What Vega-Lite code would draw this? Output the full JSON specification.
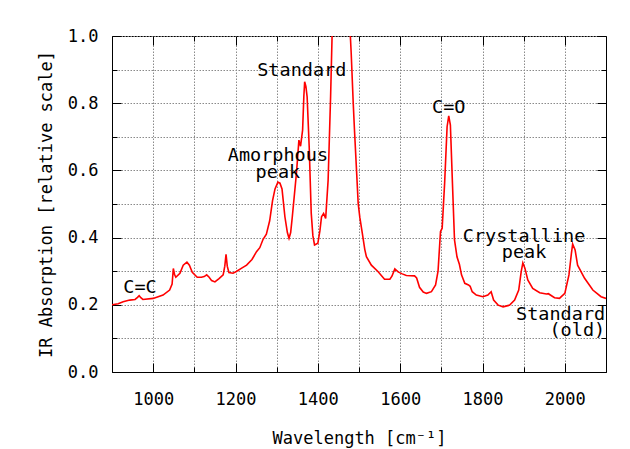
{
  "$schema": "https://vega.github.io/schema/vega-lite/v6.json",
  "width": 494,
  "height": 336,
  "autosize": "none",
  "padding": {"left": 112, "top": 36, "right": 24, "bottom": 77},
  "background": "white",
  "config": {
    "view": {"stroke": "black", "strokeWidth": 1},
    "axis": {
      "domainColor": "black",
      "tickColor": "black",
      "gridColor": "#8a8a8a",
      "gridDash": [1.5, 1.5],
      "gridWidth": 1,
      "labelFont": "DejaVu Sans Mono",
      "labelFontSize": 17,
      "labelColor": "black",
      "titleFont": "DejaVu Sans Mono",
      "titleFontSize": 17,
      "titleFontWeight": "normal",
      "titleColor": "black",
      "labelOverlap": false,
      "labelFlush": false,
      "labelBound": false
    }
  },
  "layer": [
    {
      "data": {"values": [
        {"wavenumber": 900, "absorption": 0.200},
        {"wavenumber": 915, "absorption": 0.203},
        {"wavenumber": 927, "absorption": 0.209},
        {"wavenumber": 943, "absorption": 0.214},
        {"wavenumber": 956, "absorption": 0.216},
        {"wavenumber": 962, "absorption": 0.222},
        {"wavenumber": 966, "absorption": 0.227},
        {"wavenumber": 970, "absorption": 0.221},
        {"wavenumber": 975, "absorption": 0.216},
        {"wavenumber": 1000, "absorption": 0.219},
        {"wavenumber": 1024, "absorption": 0.229},
        {"wavenumber": 1040, "absorption": 0.244},
        {"wavenumber": 1046, "absorption": 0.262},
        {"wavenumber": 1049, "absorption": 0.308},
        {"wavenumber": 1052, "absorption": 0.290},
        {"wavenumber": 1055, "absorption": 0.282},
        {"wavenumber": 1065, "absorption": 0.294},
        {"wavenumber": 1073, "absorption": 0.318},
        {"wavenumber": 1082, "absorption": 0.327},
        {"wavenumber": 1088, "absorption": 0.318},
        {"wavenumber": 1095, "absorption": 0.297},
        {"wavenumber": 1107, "absorption": 0.282},
        {"wavenumber": 1117, "absorption": 0.282},
        {"wavenumber": 1124, "absorption": 0.284},
        {"wavenumber": 1130, "absorption": 0.289},
        {"wavenumber": 1136, "absorption": 0.282},
        {"wavenumber": 1142, "absorption": 0.272},
        {"wavenumber": 1150, "absorption": 0.268},
        {"wavenumber": 1160, "absorption": 0.278},
        {"wavenumber": 1170, "absorption": 0.289},
        {"wavenumber": 1174, "absorption": 0.315},
        {"wavenumber": 1177, "absorption": 0.350},
        {"wavenumber": 1180, "absorption": 0.315},
        {"wavenumber": 1184, "absorption": 0.296},
        {"wavenumber": 1194, "absorption": 0.294},
        {"wavenumber": 1202, "absorption": 0.299},
        {"wavenumber": 1215, "absorption": 0.309},
        {"wavenumber": 1227, "absorption": 0.318},
        {"wavenumber": 1240, "absorption": 0.335},
        {"wavenumber": 1251, "absorption": 0.358},
        {"wavenumber": 1259, "absorption": 0.370},
        {"wavenumber": 1267, "absorption": 0.395},
        {"wavenumber": 1275, "absorption": 0.410},
        {"wavenumber": 1283, "absorption": 0.450},
        {"wavenumber": 1290, "absorption": 0.510},
        {"wavenumber": 1296, "absorption": 0.545},
        {"wavenumber": 1303, "absorption": 0.565},
        {"wavenumber": 1308, "absorption": 0.562},
        {"wavenumber": 1313, "absorption": 0.545},
        {"wavenumber": 1320, "absorption": 0.462},
        {"wavenumber": 1326, "absorption": 0.415},
        {"wavenumber": 1330, "absorption": 0.398},
        {"wavenumber": 1334, "absorption": 0.415},
        {"wavenumber": 1338, "absorption": 0.462},
        {"wavenumber": 1348, "absorption": 0.591},
        {"wavenumber": 1354, "absorption": 0.690},
        {"wavenumber": 1358, "absorption": 0.672},
        {"wavenumber": 1363, "absorption": 0.720},
        {"wavenumber": 1366, "absorption": 0.820},
        {"wavenumber": 1368, "absorption": 0.864},
        {"wavenumber": 1371, "absorption": 0.850},
        {"wavenumber": 1374, "absorption": 0.819},
        {"wavenumber": 1379, "absorption": 0.671},
        {"wavenumber": 1384, "absorption": 0.472},
        {"wavenumber": 1388, "absorption": 0.405},
        {"wavenumber": 1392, "absorption": 0.378},
        {"wavenumber": 1400, "absorption": 0.383},
        {"wavenumber": 1405, "absorption": 0.420},
        {"wavenumber": 1409, "absorption": 0.462},
        {"wavenumber": 1414, "absorption": 0.472},
        {"wavenumber": 1419, "absorption": 0.457},
        {"wavenumber": 1425, "absorption": 0.571},
        {"wavenumber": 1431, "absorption": 0.819},
        {"wavenumber": 1435, "absorption": 1.02},
        {"wavenumber": 1445, "absorption": 1.40},
        {"wavenumber": 1455, "absorption": 1.55},
        {"wavenumber": 1465, "absorption": 1.40},
        {"wavenumber": 1477, "absorption": 1.05},
        {"wavenumber": 1481, "absorption": 0.95},
        {"wavenumber": 1486, "absorption": 0.80},
        {"wavenumber": 1489, "absorption": 0.72},
        {"wavenumber": 1494, "absorption": 0.60},
        {"wavenumber": 1498, "absorption": 0.502},
        {"wavenumber": 1502, "absorption": 0.460},
        {"wavenumber": 1508, "absorption": 0.413},
        {"wavenumber": 1514, "absorption": 0.365},
        {"wavenumber": 1518, "absorption": 0.343},
        {"wavenumber": 1530, "absorption": 0.318},
        {"wavenumber": 1546, "absorption": 0.299},
        {"wavenumber": 1562, "absorption": 0.276},
        {"wavenumber": 1575, "absorption": 0.276},
        {"wavenumber": 1580, "absorption": 0.285},
        {"wavenumber": 1587, "absorption": 0.307},
        {"wavenumber": 1595, "absorption": 0.298},
        {"wavenumber": 1605, "absorption": 0.292},
        {"wavenumber": 1615, "absorption": 0.287},
        {"wavenumber": 1635, "absorption": 0.286},
        {"wavenumber": 1640, "absorption": 0.280},
        {"wavenumber": 1647, "absorption": 0.252},
        {"wavenumber": 1656, "absorption": 0.238},
        {"wavenumber": 1664, "absorption": 0.234},
        {"wavenumber": 1676, "absorption": 0.239},
        {"wavenumber": 1686, "absorption": 0.259},
        {"wavenumber": 1692, "absorption": 0.300},
        {"wavenumber": 1698, "absorption": 0.418},
        {"wavenumber": 1702, "absorption": 0.428},
        {"wavenumber": 1708, "absorption": 0.562},
        {"wavenumber": 1714, "absorption": 0.730},
        {"wavenumber": 1718, "absorption": 0.762},
        {"wavenumber": 1722, "absorption": 0.735},
        {"wavenumber": 1727, "absorption": 0.562},
        {"wavenumber": 1732, "absorption": 0.393},
        {"wavenumber": 1738, "absorption": 0.343},
        {"wavenumber": 1744, "absorption": 0.320},
        {"wavenumber": 1749, "absorption": 0.289},
        {"wavenumber": 1757, "absorption": 0.264},
        {"wavenumber": 1766, "absorption": 0.259},
        {"wavenumber": 1770, "absorption": 0.255},
        {"wavenumber": 1775, "absorption": 0.239},
        {"wavenumber": 1785, "absorption": 0.229},
        {"wavenumber": 1801, "absorption": 0.224},
        {"wavenumber": 1813, "absorption": 0.229},
        {"wavenumber": 1821, "absorption": 0.239},
        {"wavenumber": 1827, "absorption": 0.214},
        {"wavenumber": 1838, "absorption": 0.199},
        {"wavenumber": 1850, "absorption": 0.194},
        {"wavenumber": 1866, "absorption": 0.199},
        {"wavenumber": 1878, "absorption": 0.214},
        {"wavenumber": 1888, "absorption": 0.244},
        {"wavenumber": 1894, "absorption": 0.299},
        {"wavenumber": 1898, "absorption": 0.325},
        {"wavenumber": 1903, "absorption": 0.309},
        {"wavenumber": 1910, "absorption": 0.274},
        {"wavenumber": 1922, "absorption": 0.249},
        {"wavenumber": 1939, "absorption": 0.236},
        {"wavenumber": 1955, "absorption": 0.232},
        {"wavenumber": 1960, "absorption": 0.233},
        {"wavenumber": 1975, "absorption": 0.221},
        {"wavenumber": 1987, "absorption": 0.219},
        {"wavenumber": 2000, "absorption": 0.234},
        {"wavenumber": 2010, "absorption": 0.289},
        {"wavenumber": 2016, "absorption": 0.353},
        {"wavenumber": 2019, "absorption": 0.381},
        {"wavenumber": 2025, "absorption": 0.363},
        {"wavenumber": 2031, "absorption": 0.318},
        {"wavenumber": 2048, "absorption": 0.279},
        {"wavenumber": 2068, "absorption": 0.244},
        {"wavenumber": 2088, "absorption": 0.224},
        {"wavenumber": 2100, "absorption": 0.219}
      ]},
      "mark": {"type": "line", "color": "#ff0000", "strokeWidth": 1.6, "clip": true},
      "encoding": {
        "x": {
          "field": "wavenumber", "type": "quantitative",
          "scale": {"domain": [900, 2100], "nice": false, "zero": false},
          "axis": {
            "orient": "bottom",
            "title": "Wavelength [cm⁻¹]",
            "values": [1000, 1100, 1200, 1300, 1400, 1500, 1600, 1700, 1800, 1900, 2000],
            "format": "d",
            "labelExpr": "datum.value % 200 === 0 ? datum.label : ''",
            "tickSize": {"condition": {"test": "datum.value % 200 === 0", "value": -9}, "value": -5},
            "labelPadding": 28,
            "titlePadding": 19,
            "grid": true
          }
        },
        "y": {
          "field": "absorption", "type": "quantitative",
          "scale": {"domain": [0, 1], "nice": false},
          "axis": {
            "orient": "left",
            "title": "IR Absorption [relative scale]",
            "values": [0, 0.1, 0.2, 0.3, 0.4, 0.5, 0.6, 0.7, 0.8, 0.9, 1.0],
            "format": ".1f",
            "labelExpr": "round(datum.value * 10) % 2 === 0 ? datum.label : ''",
            "tickSize": {"condition": {"test": "round(datum.value * 10) % 2 === 0", "value": -9}, "value": -5},
            "labelPadding": 23,
            "titlePadding": 12,
            "grid": true
          }
        }
      }
    },
    {
      "data": {"values": [
        {"x": 1361, "y": 0.899, "label": "Standard"},
        {"x": 1303, "y": 0.646, "label": "Amorphous"},
        {"x": 1303, "y": 0.594, "label": "peak"},
        {"x": 1718, "y": 0.789, "label": "C=O"},
        {"x": 968, "y": 0.253, "label": "C=C"},
        {"x": 1901, "y": 0.406, "label": "Crystalline"},
        {"x": 1901, "y": 0.356, "label": "peak"}
      ]},
      "mark": {"type": "text", "font": "DejaVu Sans Mono", "fontSize": 18.5, "align": "center", "baseline": "middle", "color": "black"},
      "encoding": {
        "x": {
          "field": "x", "type": "quantitative",
          "scale": {"domain": [900, 2100], "nice": false, "zero": false},
          "axis": {
            "orient": "top", "title": null, "labels": false, "grid": false, "domain": false,
            "values": [1000, 1100, 1200, 1300, 1400, 1500, 1600, 1700, 1800, 1900, 2000],
            "tickSize": {"condition": {"test": "datum.value % 200 === 0", "value": -9}, "value": -5}
          }
        },
        "y": {
          "field": "y", "type": "quantitative",
          "scale": {"domain": [0, 1], "nice": false},
          "axis": {
            "orient": "right", "title": null, "labels": false, "grid": false, "domain": false,
            "values": [0, 0.1, 0.2, 0.3, 0.4, 0.5, 0.6, 0.7, 0.8, 0.9, 1.0],
            "tickSize": {"condition": {"test": "round(datum.value * 10) % 2 === 0", "value": -9}, "value": -5}
          }
        },
        "text": {"field": "label"}
      }
    },
    {
      "data": {"values": [
        {"x": 2098, "y": 0.174, "label": "Standard"},
        {"x": 2098, "y": 0.124, "label": "(old)"}
      ]},
      "mark": {"type": "text", "font": "DejaVu Sans Mono", "fontSize": 18.5, "align": "right", "baseline": "middle", "color": "black"},
      "encoding": {
        "x": {"field": "x", "type": "quantitative", "axis": null},
        "y": {"field": "y", "type": "quantitative", "axis": null},
        "text": {"field": "label"}
      }
    }
  ],
  "resolve": {"axis": {"x": "independent", "y": "independent"}}
}
